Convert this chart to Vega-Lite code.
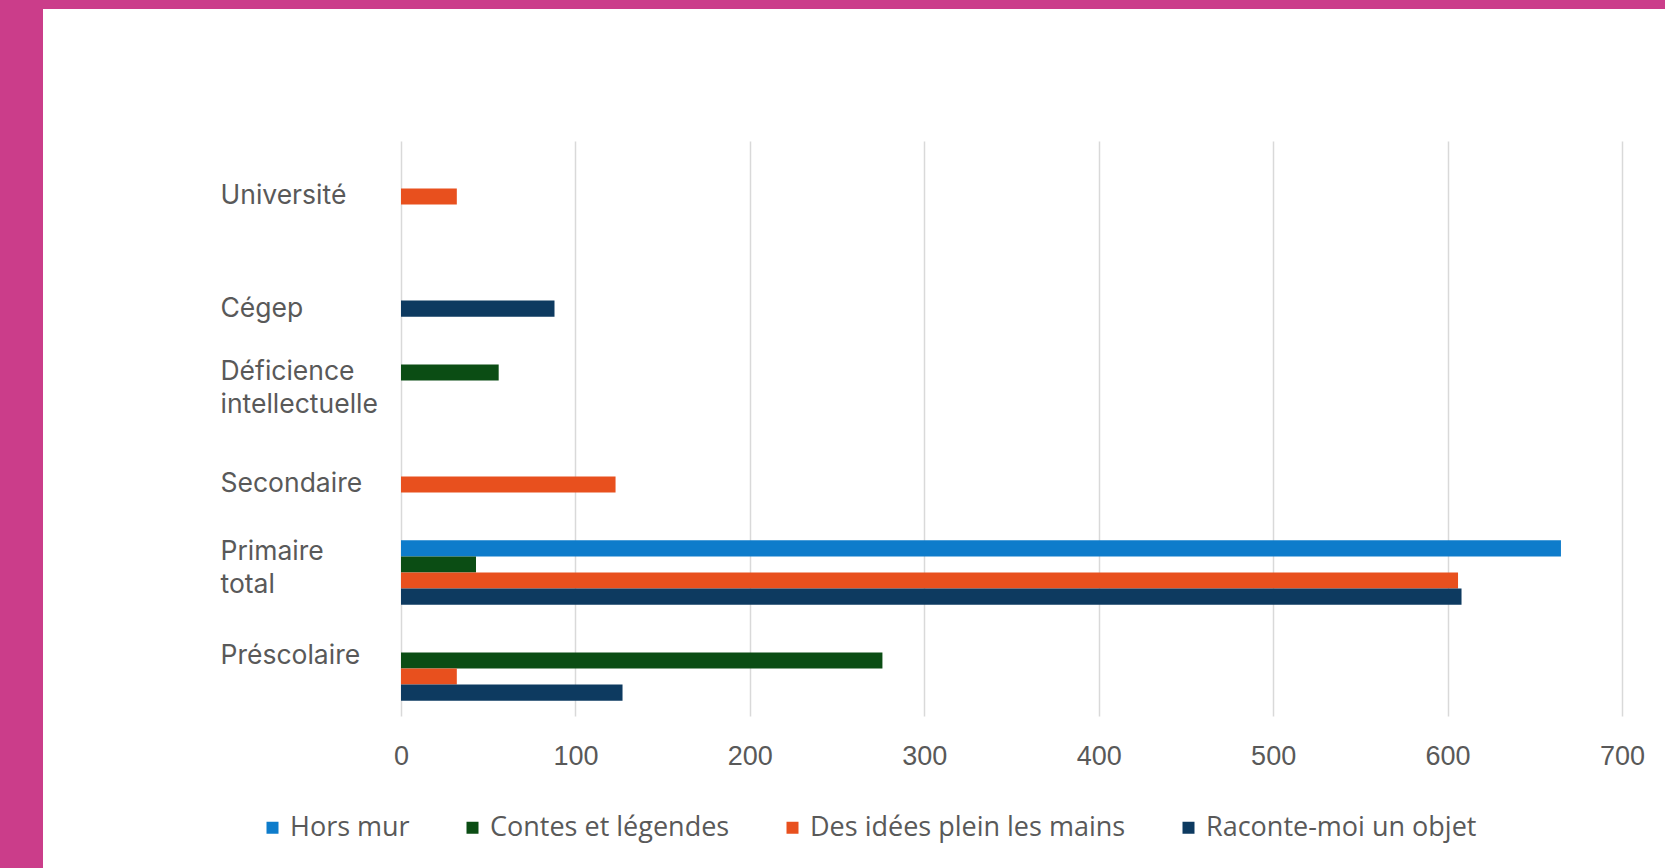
{
  "$schema": "https://vega.github.io/schema/vega-lite/v6.json",
  "padding": 0,
  "background": "white",
  "config": {"view": {"stroke": null}},
  "spacing": 0,
  "resolve": {"scale": {"color": "independent"}, "legend": {"color": "independent"}},
  "vconcat": [
    {
      "width": 1665,
      "height": 9,
      "view": {"fill": "#CB3D8A"},
      "data": {"values": []},
      "mark": "rule",
      "encoding": {}
    },
    {
      "spacing": 177,
      "resolve": {"scale": {"color": "independent"}, "legend": {"color": "independent"}},
      "hconcat": [
        {
          "width": 43,
          "height": 859,
          "view": {"fill": "#CB3D8A"},
          "data": {"values": []},
          "mark": "rule",
          "encoding": {}
        },
        {
          "spacing": 0,
          "resolve": {"scale": {"color": "independent"}, "legend": {"color": "independent"}},
          "vconcat": [
            {
              "width": 10,
              "height": 132,
              "data": {"values": []},
              "mark": "rule",
              "encoding": {}
            },
            {
              "width": 1221,
              "height": 575,
              "data": {
                "values": [
                  {"niveau": "Université", "programme": "Des idées plein les mains", "valeur": 32},
                  {"niveau": "Cégep", "programme": "Raconte-moi un objet", "valeur": 88},
                  {"niveau": "Déficience intellectuelle", "programme": "Contes et légendes", "valeur": 56},
                  {"niveau": "Secondaire", "programme": "Des idées plein les mains", "valeur": 123},
                  {"niveau": "Primaire total", "programme": "Hors mur", "valeur": 665},
                  {"niveau": "Primaire total", "programme": "Contes et légendes", "valeur": 43},
                  {"niveau": "Primaire total", "programme": "Des idées plein les mains", "valeur": 606},
                  {"niveau": "Primaire total", "programme": "Raconte-moi un objet", "valeur": 608},
                  {"niveau": "Préscolaire", "programme": "Contes et légendes", "valeur": 276},
                  {"niveau": "Préscolaire", "programme": "Des idées plein les mains", "valeur": 32},
                  {"niveau": "Préscolaire", "programme": "Raconte-moi un objet", "valeur": 127}
                ]
              },
              "mark": {"type": "bar"},
              "encoding": {
                "y": {
                  "field": "niveau",
                  "type": "nominal",
                  "scale": {
                    "domain": ["Université", "Cégep", "Déficience intellectuelle", "Secondaire", "Primaire total", "Préscolaire"],
                    "paddingInner": 0.33,
                    "paddingOuter": 0.16
                  },
                  "axis": {
                    "title": null,
                    "domain": false,
                    "ticks": false,
                    "grid": false,
                    "labelAlign": "left",
                    "labelBaseline": "middle",
                    "labelPadding": 181,
                    "labelLimit": 400,
                    "labelFont": "Inter",
                    "labelFontSize": 26.5,
                    "labelColor": "#595959",
                    "labelLineHeight": 33,
                    "labelExpr": "datum.value === 'Déficience intellectuelle' ? ['Déficience', 'intellectuelle'] : datum.value === 'Primaire total' ? ['Primaire', 'total'] : datum.label",
                    "labelOffset": {
                      "condition": [
                        {"test": "datum.value === 'Cégep'", "value": 24},
                        {"test": "datum.value === 'Déficience intellectuelle'", "value": -9},
                        {"test": "datum.value === 'Primaire total'", "value": -20},
                        {"test": "datum.value === 'Préscolaire'", "value": -12},
                        {"test": "datum.value === 'Secondaire'", "value": 8}
                      ],
                      "value": 7
                    }
                  }
                },
                "yOffset": {
                  "field": "programme",
                  "type": "nominal",
                  "scale": {
                    "domain": ["Hors mur", "Contes et légendes", "Des idées plein les mains", "Raconte-moi un objet"],
                    "paddingInner": 0,
                    "paddingOuter": 0
                  }
                },
                "x": {
                  "field": "valeur",
                  "type": "quantitative",
                  "scale": {"domain": [0, 700], "nice": false},
                  "axis": {
                    "title": null,
                    "domain": false,
                    "ticks": false,
                    "grid": true,
                    "gridColor": "#D9D9D9",
                    "gridWidth": 1.5,
                    "values": [0, 100, 200, 300, 400, 500, 600, 700],
                    "labelFlush": false,
                    "labelFont": "Liberation Sans",
                    "labelFontSize": 27,
                    "labelColor": "#595959",
                    "labelPadding": 27
                  }
                },
                "color": {
                  "field": "programme",
                  "type": "nominal",
                  "scale": {
                    "domain": ["Hors mur", "Contes et légendes", "Des idées plein les mains", "Raconte-moi un objet"],
                    "range": ["#0E7CCB", "#0B4D14", "#E8501E", "#0D3A60"]
                  },
                  "legend": {
                    "title": null,
                    "orient": "none",
                    "direction": "horizontal",
                    "legendX": -142,
                    "legendY": 673,
                    "padding": 0,
                    "symbolType": "square",
                    "symbolSize": 144,
                    "symbolStrokeWidth": 0,
                    "labelFont": "Open Sans",
                    "labelFontSize": 27,
                    "labelColor": "#595959",
                    "labelOffset": 4,
                    "columnPadding": 49,
                    "labelLimit": 500
                  }
                }
              }
            }
          ]
        }
      ]
    }
  ]
}
